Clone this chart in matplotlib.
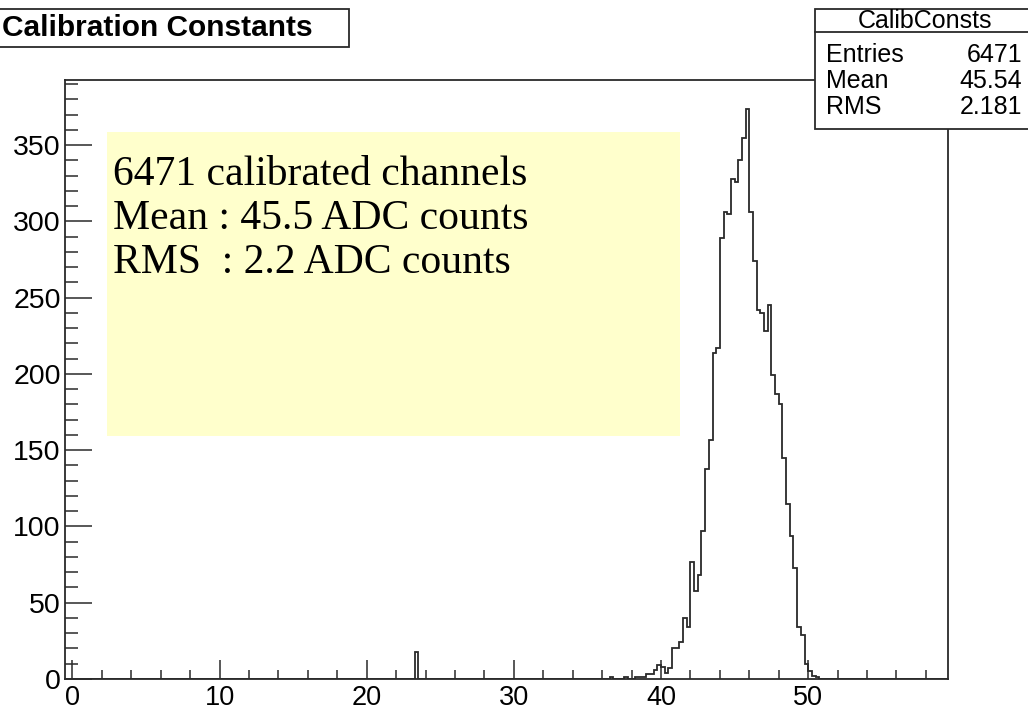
import numpy as np
import matplotlib
matplotlib.use("Agg")
import matplotlib.pyplot as plt
from matplotlib.patches import Rectangle
from matplotlib.lines import Line2D
from matplotlib.ticker import MultipleLocator

# ── Data ────────────────────────────────────────────────────────────
X_LO, X_HI = -0.5, 59.5
BIN_WIDTH = 0.25

# lower edge of every non-empty bin and its content
bin_lo = [23.25, 36.5, 37.5, 38.25, 38.5, 38.75, 39.0, 39.25, 39.5, 39.75,
          40.0, 40.25, 40.5, 40.75, 41.0, 41.25, 41.5, 41.75, 42.0, 42.25,
          42.5, 42.75, 43.0, 43.25, 43.5, 43.75, 44.0, 44.25, 44.5, 44.75,
          45.0, 45.25, 45.5, 45.75, 46.0, 46.25, 46.5, 46.75, 47.0, 47.25,
          47.5, 47.75, 48.0, 48.25, 48.5, 48.75, 49.0, 49.25, 49.5, 49.75,
          50.0, 50.25, 50.5]
bin_counts = [18, 1, 1, 1, 1, 1, 3, 3, 6, 9,
              8, 4, 7, 20, 20, 24, 40, 34, 77, 58,
              68, 97, 138, 157, 214, 217, 289, 306, 305, 328,
              326, 340, 355, 374, 306, 274, 242, 240, 228, 245,
              199, 187, 180, 145, 115, 94, 73, 34, 29, 10,
              5, 2, 1]

stat_names = ["Entries", "Mean", "RMS"]
stat_values = ["6471", "45.54", "2.181"]
note_lines = ["6471 calibrated channels",
              "Mean : 45.5 ADC counts",
              "RMS  : 2.2 ADC counts"]

# ── Figure geometry (pixels of the 1028x709 picture) ────────────────
W, H = 1028, 709
plt.rcParams["font.family"] = ["Liberation Sans", "DejaVu Sans"]
INK = "#2a2a2a"

def fx(x):
    return x / W

def fy(y):
    return 1 - y / H

fig = plt.figure(figsize=(W / 100, H / 100), dpi=100)
ax = fig.add_axes([fx(65), fy(679), (948 - 65) / W, (679 - 80) / H])

edges = np.arange(X_LO, X_HI + BIN_WIDTH / 2, BIN_WIDTH)
counts = np.zeros(len(edges) - 1)
idx = np.round((np.array(bin_lo) - X_LO) / BIN_WIDTH).astype(int)
counts[idx] = bin_counts

ax.stairs(counts, edges, color=INK, lw=1.3)
ax.set_xlim(X_LO, X_HI)
ax.set_ylim(0, counts.max() * 1.05)

ax.xaxis.set_major_locator(MultipleLocator(10))
ax.xaxis.set_minor_locator(MultipleLocator(2))
ax.yaxis.set_major_locator(MultipleLocator(50))
ax.yaxis.set_minor_locator(MultipleLocator(10))
ax.tick_params(axis="x", which="major", direction="in", length=13.7, width=1.1,
               pad=4, labelsize=19.5, top=False, colors=INK)
ax.tick_params(axis="x", which="minor", direction="in", length=6.5, width=1.1,
               top=False, colors=INK)
ax.tick_params(axis="y", which="major", direction="in", length=19.2, width=1.1,
               pad=3, labelsize=20.5, right=False, colors=INK)
ax.tick_params(axis="y", which="minor", direction="in", length=9.6, width=1.1,
               right=False, colors=INK)
for tl in ax.get_xticklabels() + ax.get_yticklabels():
    tl.set_color("black")
for sp in ax.spines.values():
    sp.set_linewidth(1.3)
    sp.set_color(INK)

# ── Yellow note box ─────────────────────────────────────────────────
fig.add_artist(Rectangle((fx(107), fy(436)), (680 - 107) / W, (436 - 132) / H,
                         transform=fig.transFigure, facecolor="#ffffcc",
                         edgecolor="none", zorder=2))
for i, line in enumerate(note_lines):
    fig.text(fx(113), fy(185 + 44 * i), line, family="Liberation Serif",
             fontsize=30, va="baseline", ha="left", color="black", zorder=3)

# ── Title box ───────────────────────────────────────────────────────
fig.add_artist(Rectangle((fx(-3), fy(46.5)), (349 + 3) / W, (46.5 - 9) / H,
                         transform=fig.transFigure, facecolor="white",
                         edgecolor=INK, lw=1.3, zorder=2))
fig.text(fx(2), fy(28.5), "Calibration Constants", fontsize=21.5,
         fontweight="bold", va="center", ha="left", zorder=3)

# ── Stats box ───────────────────────────────────────────────────────
fig.add_artist(Rectangle((fx(815), fy(129)), (1040 - 815) / W, (129 - 9.3) / H,
                         transform=fig.transFigure, facecolor="white",
                         edgecolor=INK, lw=1.3, zorder=2))
fig.add_artist(Line2D([fx(815), fx(1040)], [fy(31.7), fy(31.7)],
                      transform=fig.transFigure, color=INK, lw=1.3,
                      zorder=3))
fig.text(fx(925), fy(20.7), "CalibConsts", fontsize=18, va="center",
         ha="center", zorder=3)
for i, (name, val) in enumerate(zip(stat_names, stat_values)):
    y = fy(55 + 25.8 * i)
    fig.text(fx(826), y, name, fontsize=18, va="center", ha="left", zorder=3)
    fig.text(fx(1022), y, val, fontsize=18, va="center", ha="right", zorder=3)

fig.savefig("out.png", dpi=100)
